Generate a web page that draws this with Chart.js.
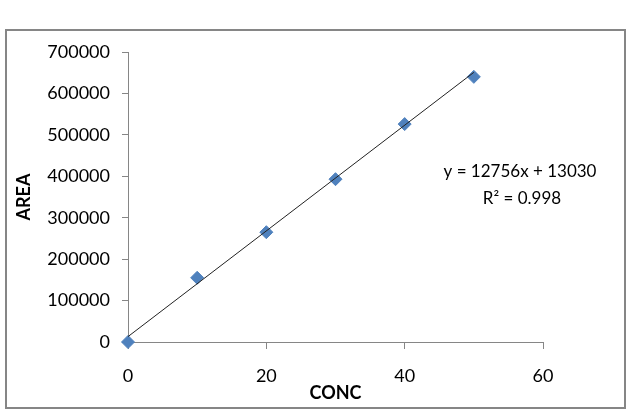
<!DOCTYPE html>
<html>
<head>
<meta charset="utf-8">
<script src="https://cdn.jsdelivr.net/npm/chart.js@4/dist/chart.umd.min.js"></script>
<style>
  body { margin: 0; background: #fff; }
  #wrap { width: 633px; height: 409px; position: relative; }
</style>
</head>
<body>
<div id="wrap"><canvas id="calChart"></canvas></div>
<script>
// Data
const conc = [0, 10, 20, 30, 40, 50];
const area = [0, 155000, 265000, 393000, 526000, 640000];
const xTicks = [0, 20, 40, 60];
const yTicks = [0, 100000, 200000, 300000, 400000, 500000, 600000, 700000];

// Trendline as written on the chart
const slope = 12756;
const intercept = 13030;
const eqText = 'y = 12756x + 13030';
const r2Text = 'R² = 0.998';

const axisGray = '#868686';
const fontName = 'Lato, "Liberation Sans", sans-serif';

const points = conc.map((c, i) => ({ x: c, y: area[i] }));
const trend = [
    { x: conc[0], y: slope * conc[0] + intercept },
    { x: conc[conc.length - 1], y: slope * conc[conc.length - 1] + intercept }
];

// Outer frame and the equation label
const extras = {
    id: 'extras',
    beforeDraw(chart) {
        const c = chart.ctx;
        c.save();
        c.strokeStyle = axisGray;
        c.lineWidth = 2;
        c.strokeRect(6, 30, 619, 378);
        c.restore();
    },
    afterDraw(chart) {
        const c = chart.ctx;
        c.save();
        c.fillStyle = '#000';
        c.font = '17px ' + fontName;
        c.textAlign = 'center';
        c.textBaseline = 'middle';
        c.fillText(eqText, 520, 172);
        c.fillText(r2Text, 522, 199);
        c.restore();
    }
};

const ctx = document.getElementById('calChart').getContext('2d');
new Chart(ctx, {
    type: 'scatter',
    data: {
        datasets: [{
            type: 'line',
            data: trend,
            borderColor: '#222',
            borderWidth: 1,
            pointRadius: 0,
            fill: false
        }, {
            data: points,
            pointStyle: 'rectRot',
            pointRadius: 6.5,
            pointBackgroundColor: '#4F81BD',
            pointBorderColor: '#4F81BD',
            clip: false
        }]
    },
    options: {
        responsive: true,
        maintainAspectRatio: false,
        animation: false,
        layout: { padding: { left: 0, top: 52, right: 90, bottom: 0 } },
        plugins: {
            legend: { display: false },
            tooltip: { enabled: false }
        },
        scales: {
            x: {
                type: 'linear',
                min: 0,
                max: 60,
                afterBuildTicks: s => { s.ticks = xTicks.map(v => ({ value: v })); },
                afterFit: s => { s.height = 67; },
                grid: { drawOnChartArea: false, drawTicks: true, tickLength: 7, color: axisGray },
                border: { color: axisGray, width: 1 },
                ticks: { color: '#000', padding: 16, font: { family: fontName, size: 18 }, callback: v => String(v) },
                title: {
                    display: true,
                    text: 'CONC',
                    color: '#000',
                    font: { family: fontName, size: 18, weight: 'bold' },
                    padding: { top: 0, bottom: 5 }
                }
            },
            y: {
                type: 'linear',
                min: 0,
                max: 700000,
                afterBuildTicks: s => { s.ticks = yTicks.map(v => ({ value: v })); },
                afterFit: s => { s.width = 128; },
                grid: { drawOnChartArea: false, drawTicks: true, tickLength: 6, color: axisGray },
                border: { color: axisGray, width: 1 },
                ticks: { color: '#000', padding: 12, font: { family: fontName, size: 18 }, callback: v => String(v) },
                title: {
                    display: true,
                    text: 'AREA',
                    color: '#000',
                    font: { family: fontName, size: 18, weight: 'bold' },
                    padding: { top: 13, bottom: 0 }
                }
            }
        }
    },
    plugins: [extras]
});
</script>
</body>
</html>
